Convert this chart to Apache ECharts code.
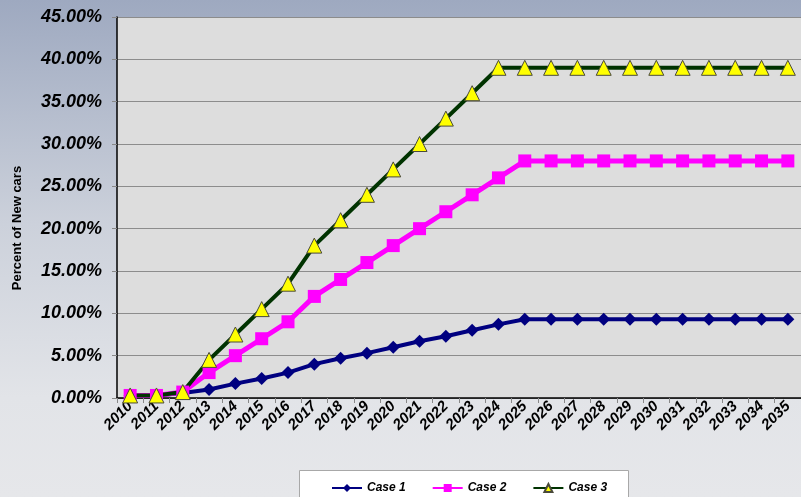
<!DOCTYPE html>
<html>
<head>
<meta charset="utf-8">
<script src="https://cdn.jsdelivr.net/npm/echarts@6/dist/echarts.min.js"></script>
<style>
  html, body { margin: 0; padding: 0; }
  #chart { width: 801px; height: 497px; }
</style>
</head>
<body>
<div id="chart"></div>
<script>
// Share of new cars per year, in percent, for three adoption scenarios
const years = ['2010','2011','2012','2013','2014','2015','2016','2017','2018','2019','2020','2021','2022',
               '2023','2024','2025','2026','2027','2028','2029','2030','2031','2032','2033','2034','2035'];
const case1 = [0.3, 0.3, 0.6, 1.0, 1.7, 2.3, 3.0, 4.0, 4.7, 5.3, 6.0, 6.7, 7.3,
               8.0, 8.7, 9.3, 9.3, 9.3, 9.3, 9.3, 9.3, 9.3, 9.3, 9.3, 9.3, 9.3];
const case2 = [0.3, 0.3, 0.7, 3.0, 5.0, 7.0, 9.0, 12.0, 14.0, 16.0, 18.0, 20.0, 22.0,
               24.0, 26.0, 28.0, 28.0, 28.0, 28.0, 28.0, 28.0, 28.0, 28.0, 28.0, 28.0, 28.0];
const case3 = [0.3, 0.3, 0.7, 4.5, 7.5, 10.5, 13.5, 18.0, 21.0, 24.0, 27.0, 30.0, 33.0,
               36.0, 39.0, 39.0, 39.0, 39.0, 39.0, 39.0, 39.0, 39.0, 39.0, 39.0, 39.0, 39.0];
const seriesNames = ['Case 1', 'Case 2', 'Case 3'];
const yTicks = { min: 0, max: 45, interval: 5 };
const yTitle = 'Percent of New cars';

const FONT = '"Liberation Sans", Arial, sans-serif';
const chart = echarts.init(document.getElementById('chart'), null, { renderer: 'canvas' });

chart.setOption({
  animation: false,
  backgroundColor: {
    type: 'linear', x: 0, y: 0, x2: 0, y2: 1,
    colorStops: [
      { offset: 0, color: '#9ea9c0' },
      { offset: 0.45, color: '#ccd1db' },
      { offset: 0.8, color: '#e2e4e8' },
      { offset: 1, color: '#e6e7ea' }
    ]
  },
  graphic: [
    {
      type: 'rect', z: 0,
      shape: { x: 299.5, y: 470.5, width: 329, height: 40 },
      style: { fill: '#ffffff', stroke: '#a8a8a8', lineWidth: 1 }
    },
    {
      type: 'text', z: 5,
      x: 17, y: 228, rotation: Math.PI / 2,
      style: {
        text: yTitle, fill: '#000',
        font: 'bold 13px ' + FONT,
        align: 'center', verticalAlign: 'middle'
      }
    }
  ],
  grid: {
    left: 117, top: 17, width: 691, height: 381,
    show: true, backgroundColor: '#dddddd', borderWidth: 0
  },
  legend: {
    data: seriesNames,
    left: 326, top: 477,
    itemGap: 26, itemWidth: 30, itemHeight: 10,
    textStyle: { fontFamily: FONT, fontSize: 12, fontWeight: 'bold', fontStyle: 'italic', color: '#000' }
  },
  xAxis: {
    type: 'category',
    data: years,
    boundaryGap: true,
    axisLine: { lineStyle: { color: '#000', width: 1.5 } },
    axisTick: { show: true, length: 5, lineStyle: { color: '#888' } },
    axisLabel: {
      interval: 0, rotate: 45, margin: 6,
      fontFamily: FONT, fontSize: 15, fontWeight: 'bold', fontStyle: 'italic', color: '#000'
    },
    splitLine: { show: false }
  },
  yAxis: {
    type: 'value',
    min: yTicks.min, max: yTicks.max, interval: yTicks.interval,
    axisLine: { show: true, lineStyle: { color: '#000', width: 1.5 } },
    axisTick: { show: true, length: 5, lineStyle: { color: '#888' } },
    axisLabel: {
      margin: 15,
      formatter: v => v.toFixed(2) + '%',
      fontFamily: FONT, fontSize: 18, fontWeight: 'bold', fontStyle: 'italic', color: '#000'
    },
    splitLine: { show: true, lineStyle: { color: '#8c8c8c', width: 1 } }
  },
  series: [
    {
      name: seriesNames[0], type: 'line', data: case1,
      symbol: 'diamond', symbolSize: 13,
      lineStyle: { color: '#000080', width: 4 },
      itemStyle: { color: '#000080' }
    },
    {
      name: seriesNames[1], type: 'line', data: case2,
      symbol: 'rect', symbolSize: 13,
      lineStyle: { color: '#ff00ff', width: 5 },
      itemStyle: { color: '#ff00ff' }
    },
    {
      name: seriesNames[2], type: 'line', data: case3,
      symbol: 'triangle', symbolSize: 15,
      lineStyle: { color: '#003300', width: 4 },
      itemStyle: { color: '#ffff00', borderColor: '#4a4a3a', borderWidth: 1 }
    }
  ]
});
</script>
</body>
</html>
